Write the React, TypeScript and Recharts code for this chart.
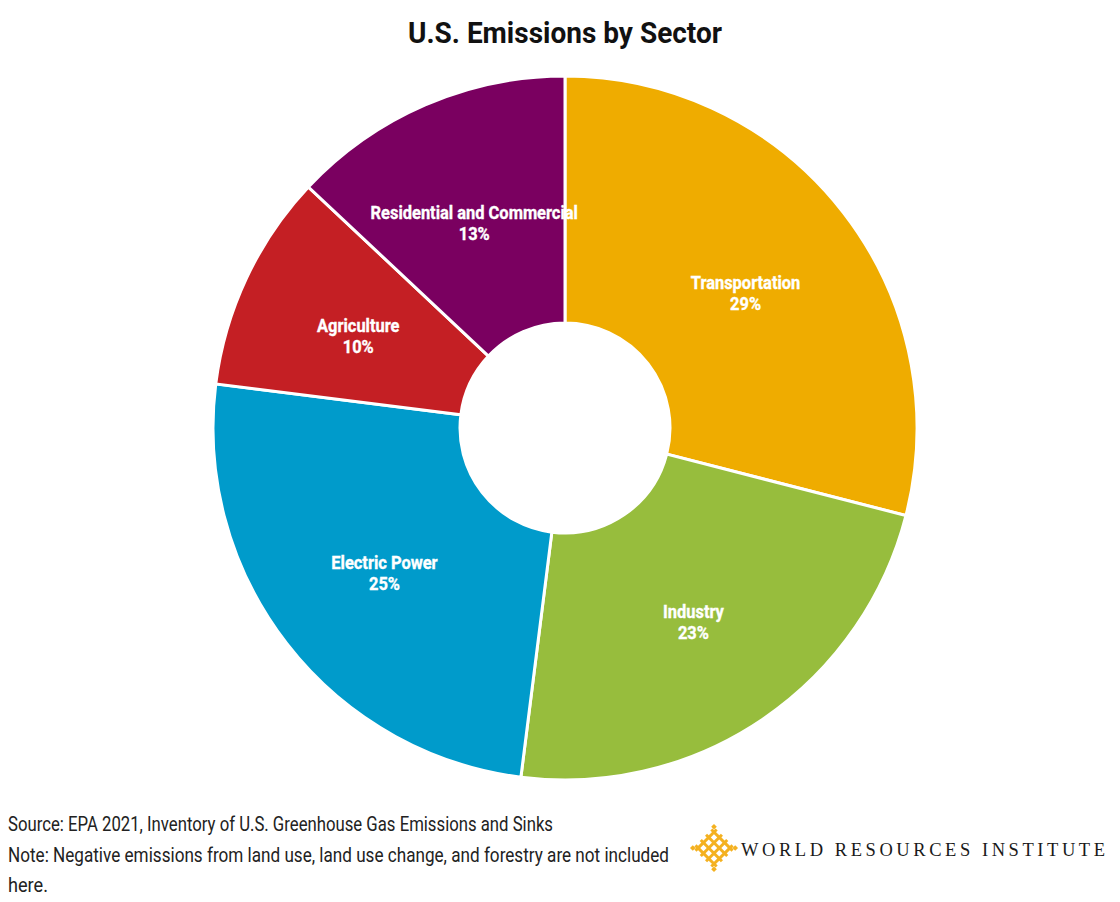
import React from "react";
import { PieChart, Pie, Cell } from "recharts";

const sectors = ["Transportation", "Industry", "Electric Power", "Agriculture", "Residential and Commercial"];
const shares = [29, 23, 25, 10, 13];
const colors = ["#EFAC00", "#97BD3D", "#009BCB", "#C41F24", "#7A0060"];

const data = sectors.map((name, i) => ({ name, value: shares[i] }));

const RAD = Math.PI / 180;

const renderLabel = (props: any) => {
  const { cx, cy, midAngle, innerRadius, outerRadius, name, value } = props;
  const r = (innerRadius + outerRadius) / 2;
  const x = cx + r * Math.cos(-midAngle * RAD);
  const y = cy + r * Math.sin(-midAngle * RAD);
  const common = {
    textAnchor: "middle" as const,
    fill: "#ffffff",
    stroke: "#ffffff",
    strokeWidth: 0.35,
    fontFamily: "Roboto, 'Noto Sans', sans-serif",
    fontWeight: 700,
    fontSize: 17.5,
  };
  return (
    <g transform={`translate(${x},${y}) scale(0.94,1)`}>
      <text x={0} y={1} {...common}>
        {name}
      </text>
      <text x={0} y={22} {...common}>
        {`${value}%`}
      </text>
    </g>
  );
};

const Logo = () => {
  const gold = "#F4B120";
  const s = 7.5;
  const lines: JSX.Element[] = [];
  for (let i = 0; i < 4; i++) {
    const p = -1.5 * s + i * s;
    lines.push(<line key={`h${i}`} x1={-2 * s} y1={p} x2={2 * s} y2={p} stroke={gold} strokeWidth={3} />);
    lines.push(<line key={`v${i}`} x1={p} y1={-2 * s} x2={p} y2={2 * s} stroke={gold} strokeWidth={3} />);
  }
  return (
    <g transform="translate(714,848) rotate(45)">
      {lines}
      <rect x={-2 * s - 2} y={-2 * s - 2} width={4} height={4} fill={gold} />
      <rect x={2 * s - 2} y={-2 * s - 2} width={4} height={4} fill={gold} />
      <rect x={-2 * s - 2} y={2 * s - 2} width={4} height={4} fill={gold} />
      <rect x={2 * s - 2} y={2 * s - 2} width={4} height={4} fill={gold} />
    </g>
  );
};

export default function App() {
  return (
    <div style={{ position: "absolute", left: 0, top: 0, width: 1120, height: 902, background: "#ffffff" }}>
      <PieChart width={1120} height={902} margin={{ top: 0, right: 0, bottom: 0, left: 0 }}>
        <Pie
          data={data}
          dataKey="value"
          nameKey="name"
          cx={565}
          cy={428}
          innerRadius={105}
          outerRadius={352}
          startAngle={90}
          endAngle={-270}
          stroke="#ffffff"
          strokeWidth={3}
          label={renderLabel}
          labelLine={false}
          isAnimationActive={false}
        >
          {data.map((d, i) => (
            <Cell key={d.name} fill={colors[i]} />
          ))}
        </Pie>
      </PieChart>
      <svg
        width={1120}
        height={902}
        style={{ position: "absolute", left: 0, top: 0, pointerEvents: "none" }}
      >
        <text
          x={408}
          y={43}
          textLength={314}
          lengthAdjust="spacingAndGlyphs"
          fontFamily="Roboto, sans-serif"
          fontWeight={700}
          fontSize={29}
          fill="#111111"
        >
          U.S. Emissions by Sector
        </text>
        <text
          x={8}
          y={831}
          textLength={545}
          lengthAdjust="spacingAndGlyphs"
          fontFamily="Roboto, sans-serif"
          fontSize={19.5}
          fill="#222222"
        >
          Source: EPA 2021, Inventory of U.S. Greenhouse Gas Emissions and Sinks
        </text>
        <text
          x={8}
          y={862}
          textLength={661}
          lengthAdjust="spacingAndGlyphs"
          fontFamily="Roboto, sans-serif"
          fontSize={19.5}
          fill="#222222"
        >
          Note: Negative emissions from land use, land use change, and forestry are not included
        </text>
        <text
          x={8}
          y={892}
          textLength={40}
          lengthAdjust="spacingAndGlyphs"
          fontFamily="Roboto, sans-serif"
          fontSize={19.5}
          fill="#222222"
        >
          here.
        </text>
        <Logo />
        <text
          x={741}
          y={856}
          textLength={364}
          lengthAdjust="spacing"
          fontFamily="'Liberation Serif', 'DejaVu Serif', serif"
          fontSize={18.5}
          fill="#1a1a1a"
        >
          WORLD RESOURCES INSTITUTE
        </text>
      </svg>
    </div>
  );
}
